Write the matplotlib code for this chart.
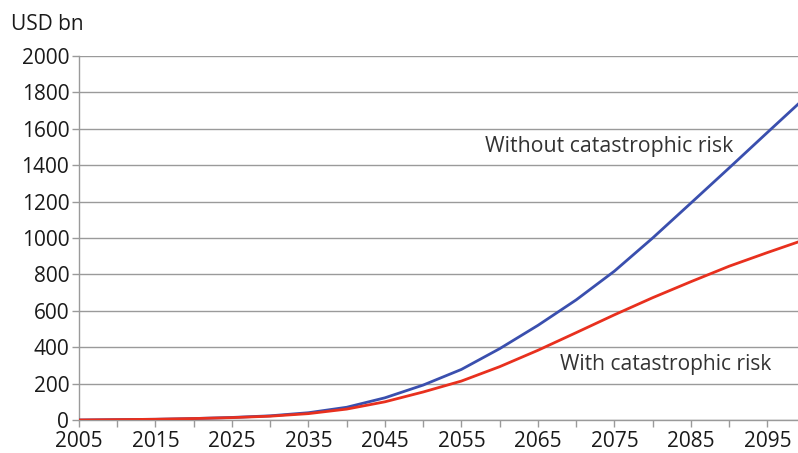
import numpy as np
import matplotlib.pyplot as plt
from matplotlib.ticker import MultipleLocator

plt.rcParams['font.family'] = ['Open Sans', 'DejaVu Sans']

years = [2005, 2010, 2015, 2020, 2025, 2030, 2035, 2040, 2045, 2050,
         2055, 2060, 2065, 2070, 2075, 2080, 2085, 2090, 2095, 2099]
without_risk = [0, 2, 4, 8, 14, 23, 40, 70, 122, 192,
                278, 392, 520, 660, 818, 1000, 1192, 1385, 1580, 1735]
with_risk = [0, 2, 4, 8, 13, 21, 35, 60, 100, 154,
             214, 293, 383, 480, 578, 672, 760, 845, 920, 978]

x_ticks = list(range(2005, 2100, 10))
y_ticks = list(range(0, 2001, 200))

fig = plt.figure(figsize=(7.98, 4.53), dpi=100)
ax = fig.add_axes([79 / 798, 33 / 453, 719 / 798, 364 / 453])

grid_col = "#9a9a9a"
ax.plot(years, without_risk, color="#3a4fae", lw=2.0, zorder=3)
ax.plot(years, with_risk, color="#e8301e", lw=2.0, zorder=3)

ax.set_xlim(2005, 2099)
ax.set_ylim(0, 2000)
ax.set_xticks(x_ticks)
ax.xaxis.set_minor_locator(MultipleLocator(5))
ax.set_yticks(y_ticks)
ax.grid(axis="y", color=grid_col, lw=1.0)
ax.set_axisbelow(True)

for s in ["top", "right"]:
    ax.spines[s].set_visible(False)
for s in ["left", "bottom"]:
    ax.spines[s].set_color(grid_col)
    ax.spines[s].set_linewidth(1.0)

ax.tick_params(axis="both", which="both", colors=grid_col, labelcolor="#1a1a1a",
               labelsize=15, length=5, width=1)
ax.tick_params(axis="y", pad=2)
ax.tick_params(axis="x", pad=3)

fig.text(11 / 798, 1 - 25 / 453, "USD bn", fontsize=15, color="#1a1a1a",
         va="center", ha="left")

ax.text(2074.3, 1505, "Without catastrophic risk", fontsize=15.3, color="#333333",
        ha="center", va="center")
ax.text(2081.7, 305, "With catastrophic risk", fontsize=15.1, color="#333333",
        ha="center", va="center")

fig.savefig("out.png", dpi=100)
